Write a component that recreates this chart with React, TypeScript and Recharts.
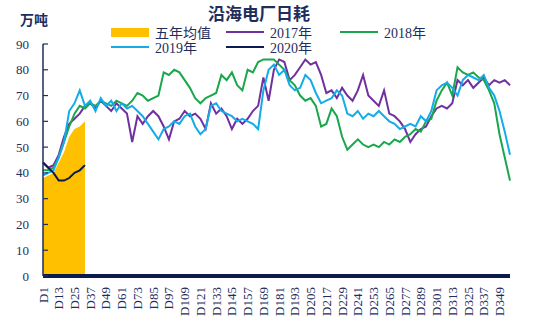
import React from "react";
import { ComposedChart, Area, Line, XAxis, YAxis } from "recharts";

// day categories, one point every 4 days (D1 ... D357)
const days = Array.from({ length: 90 }, (_, i) => 1 + i * 4);

const tickLabels = [
  "D1", "D13", "D25", "D37", "D49", "D61", "D73", "D85", "D97", "D109",
  "D121", "D133", "D145", "D157", "D169", "D181", "D193", "D205", "D217", "D229",
  "D241", "D253", "D265", "D277", "D289", "D301", "D313", "D325", "D337", "D349",
];
const yTicks = [0, 10, 20, 30, 40, 50, 60, 70, 80, 90];

const avg5 = [38, 39, 40, 44, 48, 54, 57, 58, 60];

const y2017 = [
  44, 42, 43, 47, 54, 59, 61, 63, 66, 67,
  65, 68, 66, 64, 67, 65, 63, 52, 62, 59,
  62, 64, 62, 58, 53, 60, 61, 64, 62, 63,
  61, 57, 67, 63, 65, 62, 57, 61, 59, 61,
  64, 66, 77, 68, 80, 84, 83, 76, 78, 81,
  84, 82, 83, 78, 71, 72, 69, 73, 70, 68,
  72, 78, 70, 68, 66, 72, 63, 62, 60, 57,
  52, 55, 57, 58, 62, 65, 66, 65, 67, 76,
  74, 76, 73, 75, 77, 74, 76, 75, 76, 74,
];

const y2018 = [
  41, 41, 42, 46, 52, 58, 63, 66, 65, 67,
  66, 68, 67, 66, 68, 67, 66, 68, 71, 70,
  68, 69, 70, 79, 78, 80, 79, 76, 73, 69,
  67, 69, 70, 71, 78, 76, 79, 74, 72, 80,
  79, 83, 84, 84, 84, 82, 80, 76, 74, 70,
  68, 69, 66, 58, 59, 65, 62, 54, 49, 51,
  53, 51, 50, 51, 50, 52, 51, 53, 52, 54,
  55, 57, 56, 60, 61, 68, 72, 75, 70, 81,
  79, 78, 79, 77, 76, 72, 67, 55, 46, 37,
];

const y2019 = [
  39, 40, 41, 46, 52, 64, 67, 72, 66, 68,
  64, 69, 66, 68, 64, 67, 65, 66, 64, 62,
  59, 56, 53, 57, 58, 60, 59, 62, 63, 58,
  55, 57, 66, 67, 64, 63, 62, 60, 61, 60,
  59, 57, 72, 80, 82, 78, 80, 74, 72, 73,
  78, 76, 71, 67, 68, 69, 72, 70, 63, 62,
  64, 61, 63, 62, 64, 62, 60, 59, 57, 58,
  59, 58, 62, 60, 64, 72, 74, 75, 73, 70,
  76, 78, 77, 76, 78, 73, 70, 64, 56, 47,
];

const y2020 = [44, 42, 40, 37, 37, 38, 40, 41, 43];

const series = [
  { key: "avg", name: "五年均值", color: "#FFC000", swatch: "rect" },
  { key: "s2017", name: "2017年", color: "#7030A0", swatch: "line" },
  { key: "s2018", name: "2018年", color: "#1AA64B", swatch: "line" },
  { key: "s2019", name: "2019年", color: "#14ACE8", swatch: "line" },
  { key: "s2020", name: "2020年", color: "#0C1B4D", swatch: "line" },
];

const navy = "#1F2D5C";
const serif = "'Liberation Serif', 'Noto Sans CJK SC', serif";

const pick = (arr: number[], i: number) => (i < arr.length ? arr[i] : null);

const data = days.map((d, i) => ({
  day: d,
  avg: pick(avg5, i),
  s2017: pick(y2017, i),
  s2018: pick(y2018, i),
  s2019: pick(y2019, i),
  s2020: pick(y2020, i),
}));

const tickDays = tickLabels.map((t) => Number(t.slice(1)));

const YTick = (props: any) => {
  const { y, payload } = props;
  return (
    <g>
      <line x1={43} x2={48} y1={y} y2={y} stroke={navy} strokeWidth={1.2} />
      <text
        x={29}
        y={y}
        textAnchor="end"
        dominantBaseline="central"
        fontSize={13}
        fontFamily={serif}
        fill={navy}
      >
        {payload.value}
      </text>
    </g>
  );
};

const XTick = (props: any) => {
  const { x, payload } = props;
  const y = 287;
  return (
    <text
      x={x}
      y={y}
      transform={`rotate(-90, ${x}, ${y})`}
      textAnchor="end"
      dominantBaseline="central"
      fontSize={13}
      fontFamily={serif}
      fill={navy}
    >
      {"D" + payload.value}
    </text>
  );
};

// legend slots: [left, centerY]
const legendPos = [
  [111, 32],
  [226, 32],
  [340, 32],
  [111, 47],
  [226, 47],
];

const App = () => {
  return (
    <div
      style={{
        position: "absolute",
        left: 0,
        top: 0,
        width: 542,
        height: 333,
        background: "#fff",
        overflow: "hidden",
      }}
    >
      <div
        style={{
          position: "absolute",
          left: 208,
          top: 3,
          fontFamily: "'Noto Sans CJK SC', sans-serif",
          fontWeight: 700,
          fontSize: 17,
          color: navy,
          lineHeight: "20px",
          whiteSpace: "nowrap",
        }}
      >
        沿海电厂日耗
      </div>
      <div
        style={{
          position: "absolute",
          left: 20,
          top: 11,
          fontFamily: "'Noto Sans CJK SC', sans-serif",
          fontWeight: 700,
          fontSize: 14,
          color: navy,
          lineHeight: "16px",
        }}
      >
        万吨
      </div>
      {series.map((s, i) => {
        const [lx, cy] = legendPos[i];
        return (
          <div
            key={s.key}
            style={{
              position: "absolute",
              left: lx,
              top: cy - 9,
              height: 18,
              display: "flex",
              alignItems: "center",
              fontFamily: serif,
              fontSize: 14,
              color: navy,
              whiteSpace: "nowrap",
            }}
          >
            <span
              style={{
                display: "inline-block",
                width: 38,
                height: s.swatch === "rect" ? 9 : 2,
                background: s.color,
                marginRight: 6,
              }}
            />
            {s.name}
          </div>
        );
      })}
      <ComposedChart
        width={542}
        height={333}
        data={data}
        margin={{ top: 44, right: 32, bottom: 7, left: 0 }}
      >
        <XAxis
          dataKey="day"
          type="number"
          domain={[1, 357]}
          ticks={tickDays}
          interval={0}
          height={50}
          axisLine={{ stroke: "#0C1B4D", strokeWidth: 4 }}
          tickLine={false}
          tick={<XTick />}
        />
        <YAxis
          domain={[0, 90]}
          ticks={yTicks}
          interval={0}
          width={43}
          axisLine={{ stroke: navy, strokeWidth: 1.5 }}
          tickLine={false}
          tick={<YTick />}
        />
        <Area
          dataKey="avg"
          name={series[0].name}
          type="linear"
          fill={series[0].color}
          fillOpacity={1}
          stroke="none"
          baseValue={0}
          isAnimationActive={false}
        />
        {series.slice(1).map((s) => (
          <Line
            key={s.key}
            dataKey={s.key}
            name={s.name}
            type="linear"
            stroke={s.color}
            strokeWidth={2}
            dot={false}
            activeDot={false}
            isAnimationActive={false}
          />
        ))}
      </ComposedChart>
    </div>
  );
};

export default App;
